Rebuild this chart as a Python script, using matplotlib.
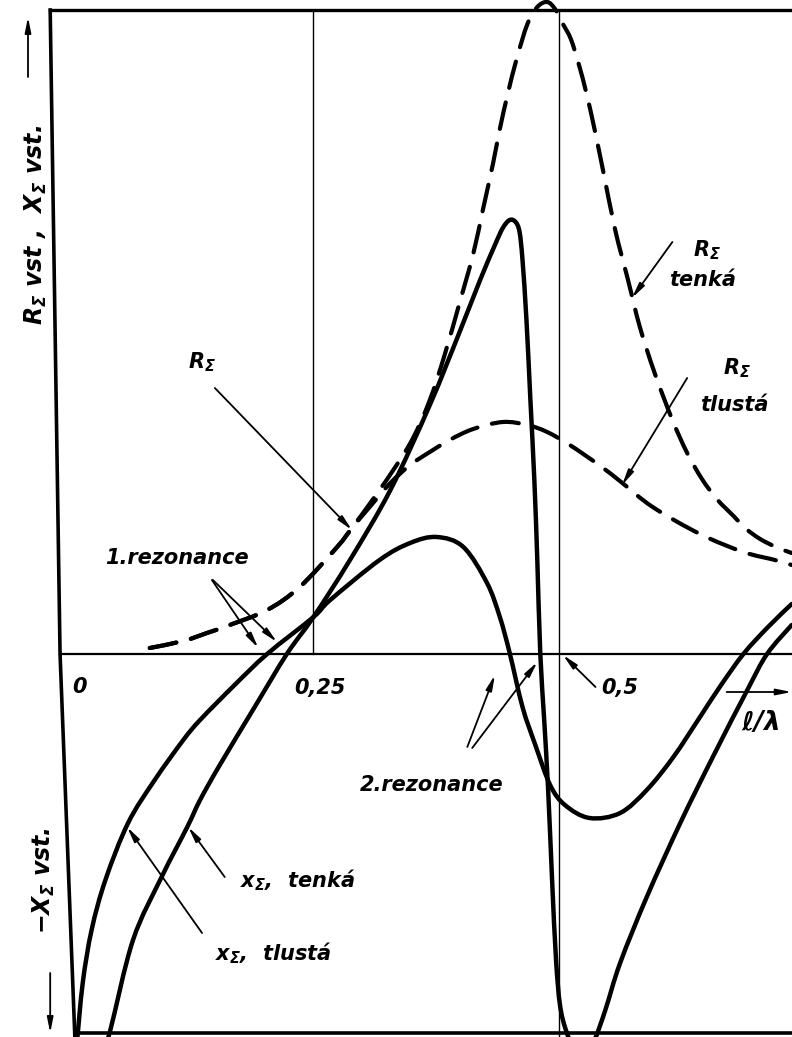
import matplotlib

matplotlib.use("Agg")
import matplotlib.pyplot as plt
from matplotlib.path import Path
from matplotlib.patches import PathPatch

plt.rcParams["font.family"] = "DejaVu Sans"
plt.rcParams["mathtext.fontset"] = "custom"
plt.rcParams["mathtext.rm"] = "DejaVu Sans:bold:italic"
plt.rcParams["mathtext.it"] = "DejaVu Sans:bold:italic"

# radiation resistance R_sigma, thin dipole (dashed)
r_thin_x = [0.085, 0.119, 0.143, 0.166, 0.204, 0.237, 0.275, 0.290, 0.313, 0.334,
            0.352, 0.369, 0.384, 0.400, 0.413, 0.423, 0.433, 0.440, 0.448, 0.457,
            0.468, 0.478, 0.488, 0.496, 0.504, 0.512, 0.520, 0.528, 0.536, 0.545,
            0.557, 0.570, 0.582, 0.597, 0.615, 0.630, 0.645, 0.660, 0.677, 0.690,
            0.704, 0.720, 0.736]
r_thin_y = [0.06, 0.13, 0.21, 0.29, 0.44, 0.67, 1.07, 1.26, 1.57, 1.87,
            2.16, 2.54, 2.99, 3.54, 4.00, 4.45, 4.90, 5.25, 5.60, 5.95,
            6.30, 6.47, 6.52, 6.45, 6.30, 6.15, 5.90, 5.60, 5.25, 4.82,
            4.24, 3.74, 3.27, 2.81, 2.34, 2.01, 1.75, 1.55, 1.38, 1.25,
            1.15, 1.07, 1.01]

# R_sigma, thick dipole (dashed)
r_thick_x = [0.085, 0.119, 0.143, 0.166, 0.204, 0.237, 0.275, 0.290, 0.308, 0.329,
             0.349, 0.369, 0.389, 0.413, 0.443, 0.468, 0.488, 0.511, 0.542, 0.563,
             0.595, 0.643, 0.687, 0.719, 0.736]
r_thick_y = [0.06, 0.13, 0.21, 0.29, 0.44, 0.67, 1.07, 1.26, 1.47, 1.71,
             1.89, 2.02, 2.14, 2.25, 2.32, 2.29, 2.22, 2.09, 1.88, 1.72,
             1.47, 1.20, 1.02, 0.94, 0.89]

# reactance X_sigma, thin dipole
x_thin_x = [0.038, 0.045, 0.068, 0.097, 0.123, 0.136, 0.156, 0.192, 0.224, 0.251,
            0.288, 0.329, 0.369, 0.400, 0.420, 0.435, 0.443, 0.450, 0.456, 0.460,
            0.463, 0.467, 0.471, 0.475, 0.478, 0.481, 0.485, 0.489, 0.493, 0.497,
            0.501, 0.507, 0.516, 0.526, 0.536, 0.547, 0.562, 0.589, 0.623, 0.656,
            0.691, 0.711, 0.736]
x_thin_y = [-3.95, -3.76, -2.86, -2.23, -1.73, -1.46, -1.11, -0.52, 0.00, 0.37,
            0.94, 1.64, 2.49, 3.24, 3.74, 4.09, 4.26, 4.34, 4.32, 4.22,
            3.94, 3.34, 2.54, 1.74, 0.94, 0.01, -0.66, -1.36, -2.26, -3.06,
            -3.51, -3.76, -3.96, -4.01, -3.86, -3.56, -3.09, -2.43, -1.69, -1.03,
            -0.36, 0.00, 0.29]

# X_sigma, thick dipole
x_thick_x = [0.011, 0.017, 0.026, 0.040, 0.063, 0.090, 0.119, 0.136, 0.171, 0.204,
             0.251, 0.268, 0.318, 0.349, 0.376, 0.403, 0.427, 0.440, 0.450, 0.463,
             0.476, 0.491, 0.506, 0.531, 0.562, 0.589, 0.616, 0.643, 0.663, 0.687,
             0.712, 0.736]
x_thick_y = [-3.90, -3.29, -2.76, -2.26, -1.69, -1.26, -0.86, -0.66, -0.31, 0.00,
             0.37, 0.54, 0.94, 1.11, 1.17, 1.07, 0.71, 0.37, 0.01, -0.53,
             -0.91, -1.31, -1.51, -1.64, -1.59, -1.36, -1.03, -0.63, -0.33, 0.00,
             0.27, 0.50]

x_ticks = [0, 0.25, 0.5]
x_tick_labels = ["0", "0,25", "0,5"]

fig = plt.figure(figsize=(7.92, 10.37), dpi=100)
ax = fig.add_axes([0, 0, 1, 1])
ax.set_xlim(-0.0669, 0.7363)
ax.set_ylim(-3.83, 6.54)
ax.axis("off")

ink = "black"
dash = (0, (6.5, 3.6))


def smooth(xs, ys, **kw):
    # catmull-rom through the read points, drawn as a bezier path
    pts = list(zip(xs, ys))
    verts = [pts[0]]
    codes = [Path.MOVETO]
    for i in range(len(pts) - 1):
        p0 = pts[max(i - 1, 0)]
        p1 = pts[i]
        p2 = pts[i + 1]
        p3 = pts[min(i + 2, len(pts) - 1)]
        c1 = (p1[0] + (p2[0] - p0[0]) / 6, p1[1] + (p2[1] - p0[1]) / 6)
        c2 = (p2[0] - (p3[0] - p1[0]) / 6, p2[1] - (p3[1] - p1[1]) / 6)
        verts += [c1, c2, p2]
        codes += [Path.CURVE4] * 3
    patch = PathPatch(Path(verts, codes), fill=False, edgecolor=ink, capstyle="round",
                      joinstyle="round", **kw)
    ax.add_patch(patch)


# frame, zero line and guide lines
ax.plot([-0.016, 0.74], [6.44, 6.44], color=ink, lw=2.4)
ax.plot([-0.016, -0.006, 0.009], [6.44, 0.0, -3.83], color=ink, lw=2.6)
ax.plot([0.009, 0.74], [-3.79, -3.79], color=ink, lw=2.6)
ax.plot([-0.006, 0.74], [0, 0], color=ink, lw=1.6)
ax.plot([0.2505, 0.2505], [0, 6.44], color=ink, lw=1.0)
ax.plot([0.5, 0.5], [-3.83, 6.44], color=ink, lw=1.0)

# curves
smooth(r_thin_x, r_thin_y, lw=3.0, linestyle=dash)
smooth(r_thick_x, r_thick_y, lw=3.0, linestyle=dash)
smooth(x_thin_x, x_thin_y, lw=3.2)
smooth(x_thick_x, x_thick_y, lw=3.2)

txt = dict(color=ink, fontsize=15, style="italic", weight="bold", ha="center", va="center")
arr = dict(arrowstyle="-|>,head_length=0.9,head_width=0.18", color=ink, lw=1.3,
           shrinkA=0, shrinkB=0)


def pointer(tail, tip):
    ax.annotate("", xy=tip, xytext=tail, arrowprops=arr)


# x axis labels
ax.text(0.014, -0.33, x_tick_labels[0], **txt)
ax.text(x_ticks[1] + 0.008, -0.34, x_tick_labels[1], **txt)
ax.text(x_ticks[2] + 0.062, -0.34, x_tick_labels[2], **txt)
pointer((0.537, -0.33), (0.504, -0.01))
ax.text(0.704, -0.69, r"$\ell/\lambda$", color=ink, fontsize=19, ha="center", va="center")
pointer((0.670, -0.38), (0.736, -0.38))

# y axis labels
ax.text(-0.030, 4.29, r"$R_{\Sigma}$ vst ,  $X_{\Sigma}$ vst.", rotation=90,
        **{**txt, "fontsize": 17})
pointer((-0.0385, 5.77), (-0.0385, 6.37))
ax.text(-0.022, -2.26, r"$-X_{\Sigma}$ vst.", rotation=90, **{**txt, "fontsize": 17})
pointer((-0.016, -3.19), (-0.016, -3.79))

# curve annotations
ax.text(0.113, 0.96, "1.rezonance", **txt)
pointer((0.148, 0.74), (0.195, 0.06))
pointer((0.149, 0.74), (0.214, 0.12))

ax.text(0.371, -1.31, "2.rezonance", **txt)
pointer((0.407, -0.93), (0.435, -0.21))
pointer((0.412, -0.94), (0.478, -0.08))

ax.text(0.138, 2.92, r"$R_{\Sigma}$", **txt)
pointer((0.151, 2.66), (0.290, 1.24))

ax.text(0.650, 4.04, r"$R_{\Sigma}$", **txt)
ax.text(0.646, 3.74, "tenká", **txt)
pointer((0.615, 4.12), (0.574, 3.56))

ax.text(0.680, 2.86, r"$R_{\Sigma}$", **txt)
ax.text(0.678, 2.49, "tlustá", **txt)
pointer((0.630, 2.76), (0.564, 1.69))

ax.text(0.176, -2.26, r"$x_{\Sigma}$,  tenká", **{**txt, "ha": "left"})
pointer((0.161, -2.23), (0.124, -1.73))
ax.text(0.151, -2.99, r"$x_{\Sigma}$,  tlustá", **{**txt, "ha": "left"})
pointer((0.138, -2.79), (0.062, -1.73))

plt.savefig("out.png", dpi=100)
